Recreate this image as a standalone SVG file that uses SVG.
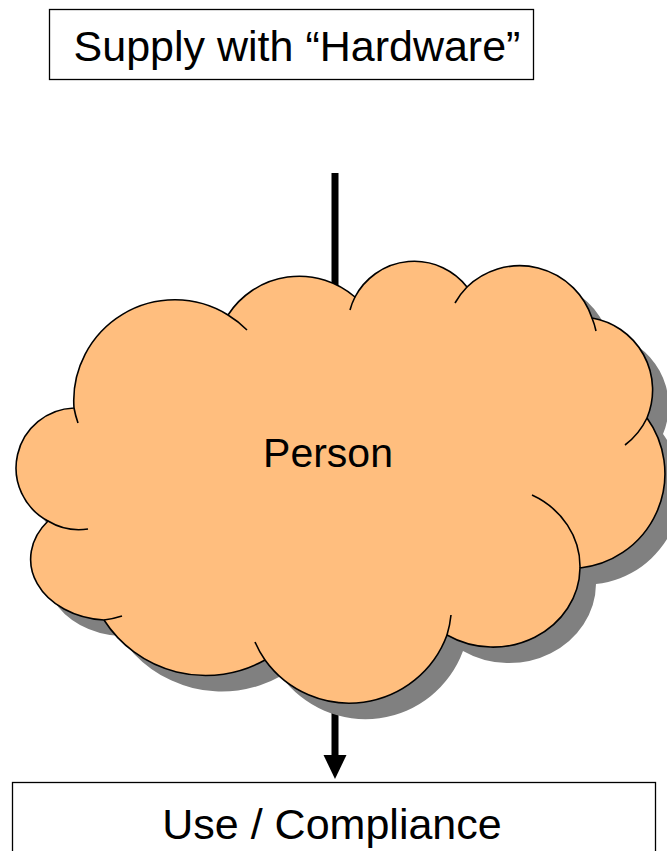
<svg xmlns="http://www.w3.org/2000/svg" width="667" height="851" viewBox="0 0 667 851">
<style>
.box{fill:#ffffff;stroke:#000000;stroke-width:1.3}
.lbl{font-family:"Liberation Sans",Arial,sans-serif;fill:#000000;text-anchor:middle}
.cloud{fill:#FFBE7E;stroke:#000000;stroke-width:1.6;stroke-linejoin:round}
.shadow{fill:#808080;stroke:none}
.hook{fill:none;stroke:#000000;stroke-width:1.6}
.conn{stroke:#000000;stroke-width:7;fill:none}
</style>
<defs>
<marker id="ah" markerUnits="userSpaceOnUse" markerWidth="24" markerHeight="24" refX="0" refY="11.5" orient="auto">
<path d="M0,0 L24,11.5 L0,23 Z" fill="#000000"/>
</marker>
<path id="cloudShape" d="M74,408 A101,101 0 0 1 228,315 A85,85 0 0 1 355,297 A67,67 0 0 1 467,287 A76,76 0 0 1 592,318 A73,73 0 0 1 647,418 A95,95 0 0 1 580,568 A87,80 0 0 1 447,635 A104,104 0 0 1 265,660 A121,121 0 0 1 104,620 A79,61 0 0 1 48,521 A60,60 0 0 1 74,408 Z"/>
</defs>
<g id="connectors">
<line class="conn" x1="335" y1="173" x2="335" y2="755" marker-end="url(#ah)"/>
</g>
<g id="person">
<use href="#cloudShape" class="shadow" transform="translate(16,16)"/>
<use href="#cloudShape" class="cloud"/>
<path class="hook" d="M74,408 A101,101 0 0 0 78,423 M228,315 A101,101 0 0 1 247,330 M355,297 A67,67 0 0 0 350,310 M467,287 A76,76 0 0 0 455,303 M592,318 A76,76 0 0 1 596,331 M647,418 A73,73 0 0 1 625,445 M580,568 A87,80 0 0 0 532,495 M447,635 A104,104 0 0 0 451,615 M265,660 A104,104 0 0 1 255,642 M104,620 A79,61 0 0 0 122,616 M48,521 A60,60 0 0 0 88,529"/>
<text class="lbl" x="328" y="467" font-size="41">Person</text>
</g>
<g id="supply">
<rect class="box" x="49.5" y="9.5" width="484" height="70"/>
<text class="lbl" x="297" y="61" font-size="43">Supply with “Hardware”</text>
</g>
<g id="use">
<rect class="box" x="12.5" y="782.5" width="643" height="100"/>
<text class="lbl" x="332" y="839" font-size="43">Use / Compliance</text>
</g>
</svg>
